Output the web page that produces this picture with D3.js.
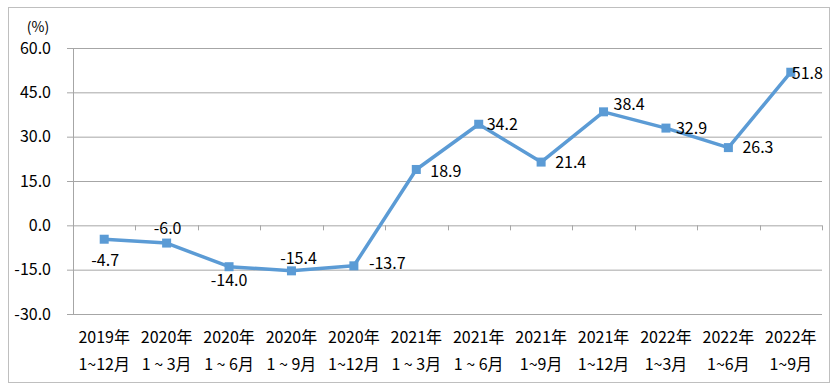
<!DOCTYPE html>
<html>
<head>
<meta charset="utf-8">
<script src="https://cdn.jsdelivr.net/npm/d3@7"></script>
<style>
    body { margin: 0; background: #fff; }
    svg text { font-family: "Noto Sans CJK SC", "Noto Sans", sans-serif; fill: #000; }
</style>
</head>
<body>
<div id="visualization"></div>
<script>
// category labels (two lines each)
const yearLabels = ["2019年", "2020年", "2020年", "2020年", "2020年", "2021年",
    "2021年", "2021年", "2021年", "2022年", "2022年", "2022年"];
const periodLabels = ["1~12月", "1 ~ 3月", "1 ~ 6月", "1 ~ 9月", "1~12月", "1 ~ 3月",
    "1 ~ 6月", "1~9月", "1~12月", "1~3月", "1~6月", "1~9月"];
// growth rate, %
const growth = [-4.7, -6.0, -14.0, -15.4, -13.7, 18.9, 34.2, 21.4, 38.4, 32.9, 26.3, 51.8];
// y axis ticks
const yTicks = [-30, -15, 0, 15, 30, 45, 60];
// where each value label sits relative to its point
const labelOffsets = [
    [1, 21, "middle"], [1, -15, "middle"], [0, 14, "middle"], [7, -12, "middle"],
    [15, -2, "start"], [14, 2, "start"], [8, 0, "start"], [14, 0, "start"],
    [10, -7, "start"], [10, 0, "start"], [14, 0, "start"], [1, 1, "start"]
];

const width = 836, height = 387;
const margin = { top: 48, right: 14, bottom: 73, left: 73 };

const svg = d3.select("#visualization")
    .append("svg")
        .attr("width", width)
        .attr("height", height);

// outer frame
svg.append("rect")
    .attr("x", 8.5).attr("y", 7.5)
    .attr("width", 821).attr("height", 375)
    .attr("fill", "none")
    .attr("stroke", "#bfbfbf")
    .attr("stroke-width", 1);

const x = d3.scaleBand()
    .domain(d3.range(growth.length))
    .range([margin.left, width - margin.right])
    .padding(0);

const y = d3.scaleLinear()
    .domain([-30, 60])
    .range([height - margin.bottom, margin.top]);

// gridlines with short ticks on the left
svg.append("g")
    .attr("transform", `translate(${margin.left},0)`)
    .call(d3.axisLeft(y)
        .tickValues(yTicks)
        .tickSize(-(width - margin.left - margin.right))
        .tickSizeOuter(0)
        .tickFormat(""))
    .call(g => g.select(".domain").remove())
    .call(g => g.selectAll(".tick line")
        .attr("stroke", "#a6a6a6")
        .attr("x1", -6));

// y tick labels
svg.append("g")
    .selectAll("text")
    .data(yTicks)
    .join("text")
        .attr("x", 51)
        .attr("y", d => y(d))
        .attr("dy", "0.35em")
        .attr("text-anchor", "end")
        .attr("font-size", 16)
        .text(d => d.toFixed(1));

svg.append("text")
    .attr("x", 38)
    .attr("y", 27)
    .attr("dy", "0.35em")
    .attr("text-anchor", "middle")
    .attr("font-size", 14)
    .text("(%)");

// y axis line
svg.append("line")
    .attr("x1", margin.left + 0.5).attr("x2", margin.left + 0.5)
    .attr("y1", y(60)).attr("y2", y(-30))
    .attr("stroke", "#a6a6a6");

// category axis sits on zero with ticks pointing down
const xTickPos = d3.range(growth.length + 1).map(i => margin.left + i * x.bandwidth());
svg.append("g")
    .selectAll("line")
    .data(xTickPos)
    .join("line")
        .attr("x1", d => Math.round(d) + 0.5).attr("x2", d => Math.round(d) + 0.5)
        .attr("y1", y(0)).attr("y2", y(0) + 5)
        .attr("stroke", "#a6a6a6");

// category labels at the bottom
const cat = svg.append("g")
    .selectAll("g")
    .data(growth)
    .join("g")
        .attr("transform", (d, i) => `translate(${x(i) + x.bandwidth() / 2},0)`);

cat.append("text")
    .attr("y", 337)
    .attr("dy", "0.35em")
    .attr("text-anchor", "middle")
    .attr("font-size", 16)
    .text((d, i) => yearLabels[i]);

cat.append("text")
    .attr("y", 364)
    .attr("dy", "0.35em")
    .attr("text-anchor", "middle")
    .attr("font-size", 16)
    .text((d, i) => periodLabels[i]);

// line
const cx = i => x(i) + x.bandwidth() / 2;
svg.append("path")
    .datum(growth)
    .attr("fill", "none")
    .attr("stroke", "#5b9bd5")
    .attr("stroke-width", 3.5)
    .attr("stroke-linejoin", "round")
    .attr("d", d3.line().x((d, i) => cx(i)).y(d => y(d)));

// markers
svg.append("g")
    .selectAll("rect")
    .data(growth)
    .join("rect")
        .attr("x", (d, i) => cx(i) - 4.5)
        .attr("y", d => y(d) - 4.5)
        .attr("width", 9)
        .attr("height", 9)
        .attr("fill", "#5b9bd5");

// value labels
svg.append("g")
    .selectAll("text")
    .data(growth)
    .join("text")
        .attr("x", (d, i) => cx(i) + labelOffsets[i][0])
        .attr("y", (d, i) => y(d) + labelOffsets[i][1])
        .attr("dy", "0.35em")
        .attr("text-anchor", (d, i) => labelOffsets[i][2])
        .attr("font-size", 16)
        .text(d => d.toFixed(1));
</script>
</body>
</html>
